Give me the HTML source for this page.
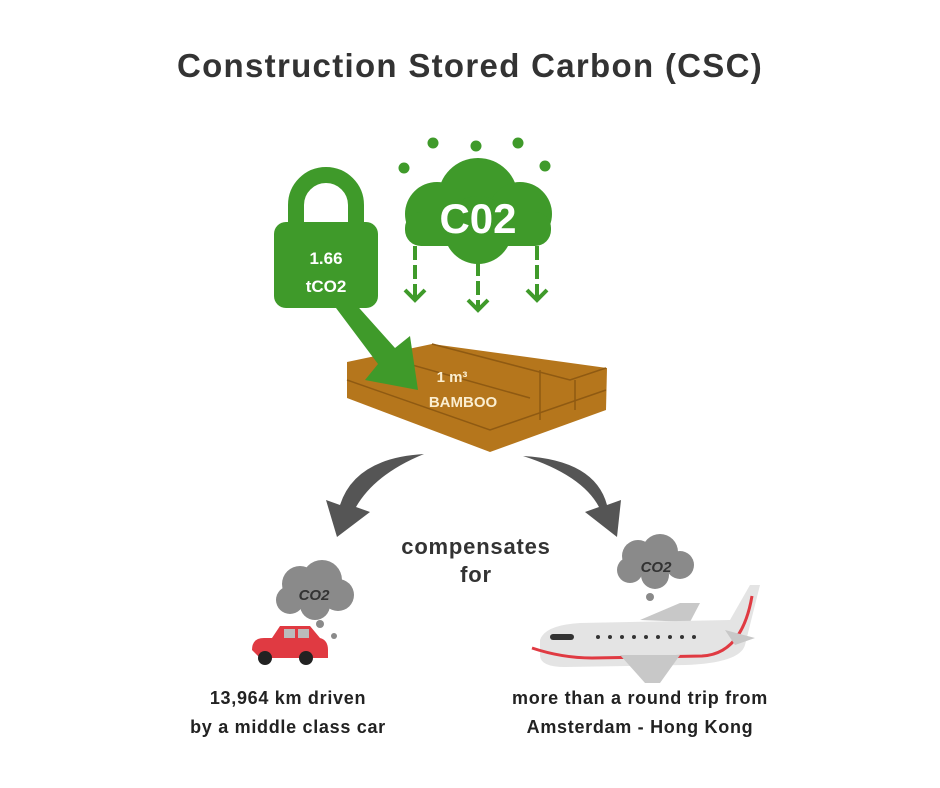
<!DOCTYPE html>
<html><head><meta charset="utf-8"><style>
body{margin:0;background:#fff;}
svg{display:block}
text{font-family:"Liberation Sans",sans-serif;font-weight:bold}
</style></head><body>
<svg width="940" height="788" viewBox="0 0 940 788">
<text x="470" y="77" text-anchor="middle" font-size="33" letter-spacing="1.3" fill="#333">Construction Stored Carbon (CSC)</text>
<!-- lock -->
<path d="M296 228 V205 a30 30 0 0 1 60 0 V228" fill="none" stroke="#3f9a2a" stroke-width="16"/>
<rect x="274" y="222" width="104" height="86" rx="12" fill="#3f9a2a"/>
<text x="326" y="264" text-anchor="middle" font-size="17" fill="#fff">1.66</text>
<text x="326" y="292" text-anchor="middle" font-size="17" fill="#fff">tCO2</text>
<!-- bamboo -->
<polygon points="347,362 432,344 607,368 606,410 490,452 347,398" fill="#b5761c"/>
<g stroke="#8f5a12" stroke-width="1.5" fill="none">
<path d="M347 380 L490 430 L606 390"/><path d="M432 344 L570 380 L606 368"/><path d="M380 356 L530 398"/><path d="M540 370 L540 420"/><path d="M575 380 L575 410"/></g>
<!-- green arrow -->
<polygon points="330,300 352,300 395,348 410,336 418,390 365,380 378,364" fill="#3f9a2a"/>
<text x="452" y="382" text-anchor="middle" font-size="15" fill="#fbeed0">1 m³</text>
<text x="463" y="407" text-anchor="middle" font-size="15" fill="#fbeed0">BAMBOO</text>
<!-- cloud -->
<g fill="#3f9a2a">
<circle cx="433" cy="143" r="5.5"/><circle cx="476" cy="146" r="5.5"/><circle cx="518" cy="143" r="5.5"/><circle cx="404" cy="168" r="5.5"/><circle cx="545" cy="166" r="5.5"/>
<circle cx="478" cy="198" r="40"/><circle cx="437" cy="214" r="32"/><circle cx="520" cy="214" r="32"/><circle cx="478" cy="230" r="34"/>
<rect x="405" y="212" width="146" height="34" rx="16"/>
</g>
<text x="478" y="233" text-anchor="middle" font-size="42" fill="#fff">C02</text>
<g stroke="#3f9a2a" stroke-width="4" fill="none" stroke-dasharray="14,5">
<path d="M415 246 V298"/><path d="M478 262 V308"/><path d="M537 246 V298"/></g>
<g stroke="#3f9a2a" stroke-width="4" fill="none">
<path d="M405 290 l10 10 l10 -10"/><path d="M468 300 l10 10 l10 -10"/><path d="M527 290 l10 10 l10 -10"/></g>
<!-- grey arrows -->
<path d="M424 454 Q355 458 340 505 L326 500 L337 537 L370 512 L356 507 Q375 474 424 454 Z" fill="#555"/>
<path d="M523 456 Q595 460 607 505 L621 500 L617 537 L585 512 L599 507 Q582 475 523 456 Z" fill="#555"/>
<text x="476" y="554" text-anchor="middle" font-size="22" letter-spacing="0.8" fill="#333">compensates</text>
<text x="476" y="582" text-anchor="middle" font-size="22" letter-spacing="0.8" fill="#333">for</text>
<!-- car cloud -->
<g fill="#8a8a8a"><circle cx="300" cy="584" r="18"/><circle cx="322" cy="580" r="20"/><circle cx="338" cy="595" r="16"/><circle cx="290" cy="600" r="14"/><circle cx="315" cy="605" r="15"/><circle cx="320" cy="624" r="4"/><circle cx="334" cy="636" r="3"/></g>
<text x="314" y="600" text-anchor="middle" font-size="15" font-weight="normal" font-style="italic" fill="#333">CO2</text>
<!-- car -->
<path d="M252 650 q0-12 12-12 l8 0 l8-12 l30 0 l10 12 q8 2 8 12 v8 h-68z" fill="#e03a42"/>
<rect x="284" y="629" width="11" height="9" fill="#bbb"/><rect x="298" y="629" width="11" height="9" fill="#bbb"/>
<circle cx="265" cy="658" r="7" fill="#222"/><circle cx="306" cy="658" r="7" fill="#222"/>
<!-- plane cloud -->
<g fill="#8a8a8a"><circle cx="638" cy="556" r="16"/><circle cx="660" cy="552" r="18"/><circle cx="680" cy="565" r="14"/><circle cx="630" cy="570" r="13"/><circle cx="655" cy="575" r="14"/><circle cx="650" cy="597" r="4"/></g>
<text x="656" y="572" text-anchor="middle" font-size="15" font-weight="normal" font-style="italic" fill="#333">CO2</text>
<!-- plane -->
<polygon points="640,620 680,603 700,603 690,622" fill="#c8c8c8"/>
<path d="M540 640 q5-15 40-17 l150 -3 l20-35 l10 0 l-15 60 q-5 18-60 20 l-120 2 q-25 0-25-12z" fill="#e4e4e4"/>
<path d="M532 648 q30 10 60 10 l110-2 q40-2 50-60" fill="none" stroke="#e03a42" stroke-width="3"/>
<polygon points="725,630 755,638 735,645" fill="#c8c8c8"/>
<polygon points="620,655 680,655 660,683 645,683" fill="#c8c8c8"/>
<rect x="550" y="634" width="24" height="6" rx="3" fill="#333"/>
<g fill="#333"><circle cx="598" cy="637" r="2"/><circle cx="610" cy="637" r="2"/><circle cx="622" cy="637" r="2"/><circle cx="634" cy="637" r="2"/><circle cx="646" cy="637" r="2"/><circle cx="658" cy="637" r="2"/><circle cx="670" cy="637" r="2"/><circle cx="682" cy="637" r="2"/><circle cx="694" cy="637" r="2"/></g>
<g font-size="18" letter-spacing="0.7" fill="#222" text-anchor="middle">
<text x="288" y="704">13,964 km driven</text>
<text x="288" y="733">by a middle class car</text>
<text x="640" y="704">more than a round trip from</text>
<text x="640" y="733">Amsterdam - Hong Kong</text>
</g>
</svg>
</body></html>
